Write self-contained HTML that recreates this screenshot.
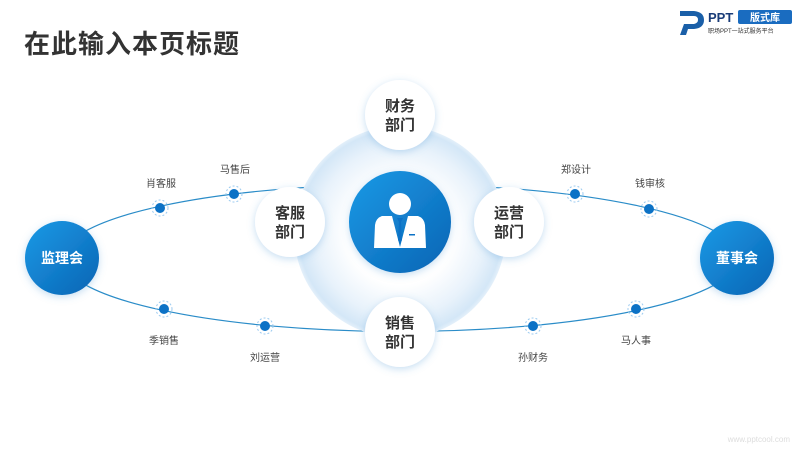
<!DOCTYPE html>
<html><head><meta charset="utf-8"><style>
html,body{margin:0;padding:0;background:#fff;}
body{width:800px;height:450px;overflow:hidden;position:relative;font-family:"Liberation Sans","Noto Sans CJK SC",sans-serif;}
.t{position:absolute;left:24px;top:24px;font-size:26px;font-weight:bold;color:#333;letter-spacing:1px;}
</style></head><body>
<svg width="800" height="450" style="position:absolute;left:0;top:0" font-family="Liberation Sans, Noto Sans CJK SC, sans-serif">
<defs>
<radialGradient id="halo" cx="50%" cy="50%" r="50%">
<stop offset="0.5" stop-color="#ffffff"/><stop offset="0.8" stop-color="#e8f2fb"/><stop offset="0.96" stop-color="#d4e7f7"/><stop offset="1" stop-color="#e4f0fa"/>
</radialGradient>
<linearGradient id="blue" x1="0" y1="0" x2="1" y2="1">
<stop offset="0" stop-color="#1a9ae6"/><stop offset="1" stop-color="#0a64b4"/>
</linearGradient>
<filter id="sh" x="-50%" y="-50%" width="200%" height="200%"><feDropShadow dx="0" dy="2" stdDeviation="4" flood-color="#5aa0d8" flood-opacity="0.35"/></filter>
</defs>
<ellipse cx="400" cy="258" rx="338" ry="73.5" fill="none" stroke="#2a8cc8" stroke-width="1.2"/>
<circle cx="400" cy="232" r="106" fill="url(#halo)"/>
<g fill="#0c72c6">
<circle cx="160" cy="208" r="5"/><circle cx="234" cy="194" r="5"/><circle cx="575" cy="194" r="5"/><circle cx="649" cy="209" r="5"/>
<circle cx="164" cy="309" r="5"/><circle cx="265" cy="326" r="5"/><circle cx="533" cy="326" r="5"/><circle cx="636" cy="309" r="5"/>
</g>
<g fill="none" stroke="#9ccbf0" stroke-dasharray="2 2">
<circle cx="160" cy="208" r="8"/><circle cx="234" cy="194" r="8"/><circle cx="575" cy="194" r="8"/><circle cx="649" cy="209" r="8"/>
<circle cx="164" cy="309" r="8"/><circle cx="265" cy="326" r="8"/><circle cx="533" cy="326" r="8"/><circle cx="636" cy="309" r="8"/>
</g>
<g font-size="10" fill="#444" text-anchor="middle">
<text x="161" y="187">肖客服</text><text x="235" y="173">马售后</text><text x="576" y="173">郑设计</text><text x="650" y="187">钱审核</text>
<text x="164" y="344">季销售</text><text x="265" y="361">刘运营</text><text x="533" y="361">孙财务</text><text x="636" y="344">马人事</text>
</g>
<g fill="#fff" filter="url(#sh)">
<circle cx="400" cy="115" r="35"/><circle cx="290" cy="222" r="35"/><circle cx="509" cy="222" r="35"/><circle cx="400" cy="332" r="35"/>
</g>
<g font-size="15" font-weight="bold" fill="#333" text-anchor="middle">
<text x="400" y="111">财务</text><text x="400" y="130">部门</text>
<text x="290" y="218">客服</text><text x="290" y="237">部门</text>
<text x="509" y="218">运营</text><text x="509" y="237">部门</text>
<text x="400" y="328">销售</text><text x="400" y="347">部门</text>
</g>
<circle cx="400" cy="222" r="51" fill="url(#blue)" filter="url(#sh)"/>
<circle cx="400" cy="204" r="11" fill="#fff"/>
<path d="M382 216 L392 216 L400 247 L408 216 L418 216 Q424 218 425 225 L426 248 L374 248 L375 225 Q376 218 382 216Z" fill="#fff"/>
<path d="M397 218 L403 218 L401 222 L402 240 L400 244 L398 240 L399 222Z" fill="#0c72c6"/>
<rect x="409" y="234" width="6" height="1.5" fill="#0c72c6"/>
<circle cx="62" cy="258" r="37" fill="url(#blue)" filter="url(#sh)"/>
<circle cx="737" cy="258" r="37" fill="url(#blue)" filter="url(#sh)"/>
<g font-size="14" font-weight="bold" fill="#fff" text-anchor="middle">
<text x="62" y="263">监理会</text><text x="737" y="263">董事会</text>
</g>
<path d="M680 11 L694 11 Q704 12 704 20 Q704 28 694 29 L688 29 L686 35 L680 35 L684 24 L694 24 Q698 23 698 20 Q698 16 694 16 L680 16Z" fill="#1a5fa8"/>
<text x="708" y="22" font-size="13" font-weight="bold" fill="#1a3c78">PPT</text>
<rect x="738" y="10" width="54" height="14" rx="2" fill="#1a6cc0"/>
<text x="765" y="21" font-size="10" font-weight="bold" fill="#fff" text-anchor="middle">版式库</text>
<text x="708" y="33" font-size="6" fill="#333">职场PPT一站式服务平台</text>
<text x="790" y="442" font-size="8" fill="#ddd" text-anchor="end">www.pptcool.com</text>
</svg>
<div class="t">在此输入本页标题</div>
</body></html>
